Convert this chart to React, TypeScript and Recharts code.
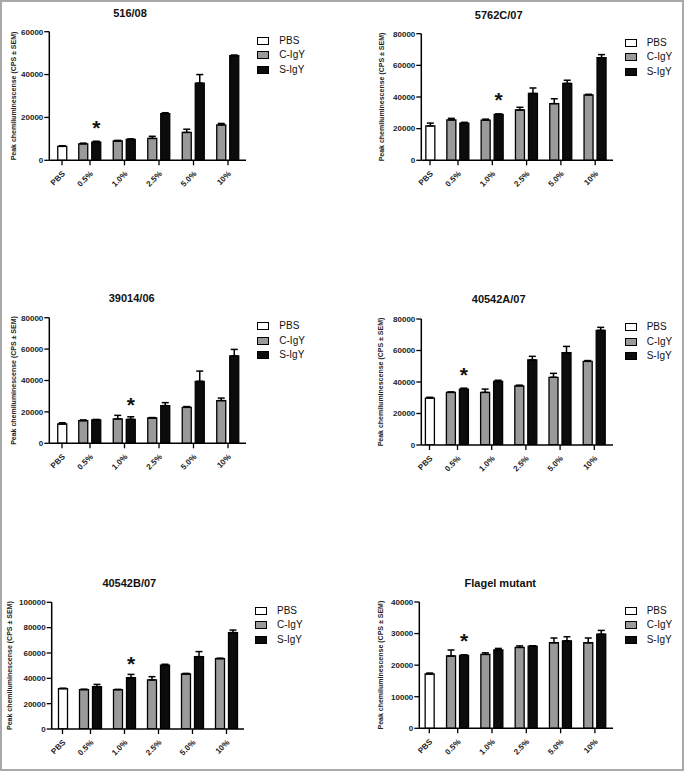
import React from "react";
import { BarChart, Bar, XAxis, YAxis, ErrorBar, LabelList, Legend } from "recharts";

const FONT = '"Liberation Sans", Arial, Helvetica, sans-serif';

// ---------- data ----------
const categories = ["PBS", "0.5%", "1.0%", "2.5%", "5.0%", "10%"];
const seriesNames = ["PBS", "C-IgY", "S-IgY"];
const titles = ["516/08", "5762C/07", "39014/06", "40542A/07", "40542B/07", "Flagel mutant"];
const yLabel = "Peak chemiluminescense (CPS \u00B1 SEM)";

const pbsMean = [6500, 21700, 12300, 29800, 31800, 17200];
const pbsSem = [300, 1800, 800, 500, 400, 300];

// C-IgY, for 0.5%, 1.0%, 2.5%, 5.0%, 10%
const cIgYMean = [
  [7700, 9000, 10200, 13000, 16500],
  [25500, 25400, 31800, 35800, 41300],
  [14400, 15500, 16100, 22900, 27200],
  [33400, 33400, 37500, 43000, 53100],
  [31100, 31000, 38700, 43400, 55500],
  [22900, 23400, 25600, 27100, 27100],
];
const cIgYSem = [
  [300, 300, 1000, 1500, 700],
  [1000, 600, 1700, 3100, 400],
  [500, 2300, 300, 500, 1600],
  [300, 2100, 500, 2500, 500],
  [300, 300, 2600, 500, 400],
  [1900, 500, 500, 1500, 1500],
];
// S-IgY
const sIgYMean = [
  [8500, 9700, 21800, 36000, 48800],
  [23500, 29000, 42200, 48600, 64800],
  [14900, 15300, 24000, 39500, 55600],
  [35500, 40400, 54000, 58600, 72800],
  [33400, 40500, 50300, 57100, 76100],
  [23100, 24800, 26000, 27700, 29800],
];
const sIgYSem = [
  [400, 300, 400, 4000, 300],
  [500, 300, 3500, 2000, 2000],
  [300, 1600, 1900, 6500, 4200],
  [600, 700, 2300, 4000, 1900],
  [1800, 2600, 800, 4000, 2000],
  [150, 500, 150, 1300, 1200],
];
const starCategory = ["0.5%", "1.0%", "1.0%", "0.5%", "1.0%", "0.5%"];
const yTicks = [
  [0, 20000, 40000, 60000],
  [0, 20000, 40000, 60000, 80000],
  [0, 20000, 40000, 60000, 80000],
  [0, 20000, 40000, 60000, 80000],
  [0, 20000, 40000, 60000, 80000, 100000],
  [0, 10000, 20000, 30000, 40000],
];

// ---------- layout (page pixels) ----------
const layout = [
  { ox: 0, oy: 0, h: 250, axisX: 49.3, right: 246, top: 31.7, bottom: 160.3, pbsX: 62, firstX: 90, band: 34.5, titleX: 130, titleY: 12.7, legX: 257.3, legY: 40.7, labelX: 13 },
  { ox: 342, oy: 0, h: 250, axisX: 421.3, right: 613, top: 33.7, bottom: 160.3, pbsX: 430, firstX: 458, band: 34.3, titleX: 498.7, titleY: 15, legX: 624.7, legY: 42.7, labelX: 381.3 },
  { ox: 0, oy: 250, h: 270, axisX: 49.3, right: 246, top: 317.7, bottom: 443.3, pbsX: 62, firstX: 90, band: 34.5, titleX: 131.7, titleY: 298.3, legX: 257.3, legY: 326, labelX: 13 },
  { ox: 342, oy: 250, h: 270, axisX: 421.3, right: 613, top: 319, bottom: 445, pbsX: 429.5, firstX: 457.5, band: 34.2, titleX: 498.7, titleY: 299, legX: 624.7, legY: 327.3, labelX: 380.3 },
  { ox: 0, oy: 520, h: 251, axisX: 51.7, right: 244, top: 602.3, bottom: 729, pbsX: 62.5, firstX: 90.5, band: 34, titleX: 129.3, titleY: 583.3, legX: 255, legY: 610.7, labelX: 10 },
  { ox: 342, oy: 520, h: 251, axisX: 419.3, right: 613, top: 602, bottom: 728.3, pbsX: 429.3, firstX: 457.7, band: 34.3, titleX: 500.3, titleY: 582.7, legX: 624.7, legY: 610.7, labelX: 380.3 },
];

const PANEL_W = 342;
const Y_W = 40;
const X_H = 30;

function buildRows(i: number) {
  return categories.map((cat, k) => {
    if (k === 0) {
      return { cat, pbs: pbsMean[i], pbsErr: [0, pbsSem[i]] };
    }
    return {
      cat,
      c: cIgYMean[i][k - 1],
      cErr: [0, cIgYSem[i][k - 1]],
      s: sIgYMean[i][k - 1],
      sErr: [0, sIgYSem[i][k - 1]],
      star: cat === starCategory[i] ? "*" : undefined,
    };
  });
}

const XTick = (props: any) => {
  const { x, payload, shift, axisY } = props;
  const xx = x + (payload && payload.value === categories[0] ? shift : 0);
  const tx = xx + 3.5;
  const ty = axisY + 14;
  return (
    <g>
      <line x1={xx} x2={xx} y1={axisY} y2={axisY + 5} stroke="#000" strokeWidth={1.3} />
      <text
        x={tx}
        y={ty}
        transform={`rotate(-45 ${tx} ${ty})`}
        textAnchor="end"
        fontSize={8}
        fontWeight="bold"
        fill="#222"
        fontFamily={FONT}
      >
        {payload.value}
      </text>
    </g>
  );
};

const LegendContent = (props: any) => {
  const payload = props.payload || [];
  const ordered = seriesNames
    .map((n) => payload.find((p: any) => p.value === n))
    .filter(Boolean);
  return (
    <div style={{ fontFamily: FONT }}>
      {ordered.map((e: any) => (
        <div key={e.value} style={{ display: "flex", alignItems: "center", height: 14.5 }}>
          <span
            style={{
              display: "inline-block",
              width: 12,
              height: 8,
              boxSizing: "border-box",
              border: "1.3px solid #000",
              background: e.color,
              marginRight: 10,
            }}
          />
          <span style={{ fontSize: 10, lineHeight: 1, color: "#111" }}>{e.value}</span>
        </div>
      ))}
    </div>
  );
};

const YLabel = (props: any) => {
  const { lx, ly } = props;
  return (
    <text
      x={lx}
      y={ly}
      transform={`rotate(-90 ${lx} ${ly})`}
      textAnchor="middle"
      dominantBaseline="central"
      fontSize={7}
      fontWeight="bold"
      fill="#222"
      fontFamily={FONT}
    >
      {yLabel}
    </text>
  );
};

function Panel({ i }: { i: number }) {
  const L = layout[i];
  const rows = buildRows(i);
  const csPadL = L.firstX - 1.5 * L.band - L.axisX;
  const csPadR = L.right - (L.firstX + 4.5 * L.band);
  const pbsPadL = L.pbsX - 0.5 * L.band - L.axisX;
  const pbsPadR = L.right - (L.pbsX + 5.5 * L.band);
  const shift = L.pbsX - (L.firstX - L.band);
  const axisY = L.bottom - L.oy;
  const ticks = yTicks[i];
  const margin = {
    top: L.top - L.oy,
    left: L.axisX - L.ox - Y_W,
    right: L.ox + PANEL_W - L.right,
    bottom: L.oy + L.h - L.bottom - X_H,
  };
  return (
    <div style={{ position: "absolute", left: L.ox, top: L.oy, width: PANEL_W, height: L.h }}>
      <BarChart width={PANEL_W} height={L.h} data={rows} margin={margin} barGap={4}>
        <XAxis
          xAxisId="cs"
          dataKey="cat"
          type="category"
          height={X_H}
          interval={0}
          padding={{ left: csPadL, right: csPadR }}
          axisLine={{ stroke: "#000", strokeWidth: 1.5 }}
          tickLine={false}
          tickSize={5}
          tickMargin={0}
          tick={(p: any) => <XTick {...p} shift={shift} axisY={axisY} />}
        />
        <XAxis
          xAxisId="pbs"
          dataKey="cat"
          type="category"
          hide
          padding={{ left: pbsPadL, right: pbsPadR }}
        />
        <YAxis
          width={Y_W}
          domain={[0, ticks[ticks.length - 1]]}
          ticks={ticks}
          interval={0}
          allowDataOverflow
          tickSize={5}
          tickMargin={1}
          axisLine={{ stroke: "#000", strokeWidth: 1.5 }}
          tickLine={{ stroke: "#000", strokeWidth: 1.3 }}
          tick={{ fontSize: 8, fontWeight: 700, fill: "#222", fontFamily: FONT }}
          label={<YLabel lx={L.labelX - L.ox} ly={(L.top + L.bottom) / 2 - L.oy} />}
        />
        <Legend
          layout="vertical"
          align="center"
          verticalAlign="middle"
          wrapperStyle={{ left: L.legX - L.ox, top: L.legY - L.oy - 7.25, width: 80 }}
          content={(p: any) => <LegendContent {...p} />}
        />
        <Bar
          xAxisId="pbs"
          dataKey="pbs"
          name={seriesNames[0]}
          fill="#ffffff"
          stroke="#000"
          strokeWidth={1.3}
          barSize={9}
          isAnimationActive={false}
        >
          <ErrorBar dataKey="pbsErr" width={3.5} stroke="#000" strokeWidth={1.5} direction="y" />
        </Bar>
        <Bar
          xAxisId="cs"
          dataKey="c"
          name={seriesNames[1]}
          fill="#9a9a9a"
          stroke="#000"
          strokeWidth={1.3}
          barSize={9}
          isAnimationActive={false}
        >
          <ErrorBar dataKey="cErr" width={3.5} stroke="#000" strokeWidth={1.5} direction="y" />
        </Bar>
        <Bar
          xAxisId="cs"
          dataKey="s"
          name={seriesNames[2]}
          fill="#0c0c0c"
          stroke="#000"
          strokeWidth={1.3}
          barSize={9}
          isAnimationActive={false}
        >
          <ErrorBar dataKey="sErr" width={3.5} stroke="#000" strokeWidth={1.5} direction="y" />
          <LabelList
            dataKey="star"
            position="top"
            offset={7}
            fill="#111"
            style={{ fontSize: 21, fontWeight: 700, fontFamily: FONT }}
          />
        </Bar>
      </BarChart>
      <div
        style={{
          position: "absolute",
          left: L.titleX - L.ox - 100,
          width: 200,
          top: L.titleY - L.oy,
          transform: "translateY(-50%)",
          textAlign: "center",
          fontFamily: FONT,
          fontWeight: 700,
          fontSize: 11,
          lineHeight: 1,
          color: "#111",
          whiteSpace: "nowrap",
        }}
      >
        {titles[i]}
      </div>
    </div>
  );
}

export default function App() {
  return (
    <div
      style={{
        position: "absolute",
        left: 0,
        top: 0,
        width: 684,
        height: 771,
        background: "#ffffff",
        overflow: "hidden",
      }}
    >
      {titles.map((_, i) => (
        <Panel key={i} i={i} />
      ))}
      <div
        style={{
          position: "absolute",
          left: 0,
          top: 0,
          width: 684,
          height: 771,
          boxSizing: "border-box",
          border: "2px solid #a9a9a9",
          pointerEvents: "none",
        }}
      />
    </div>
  );
}
